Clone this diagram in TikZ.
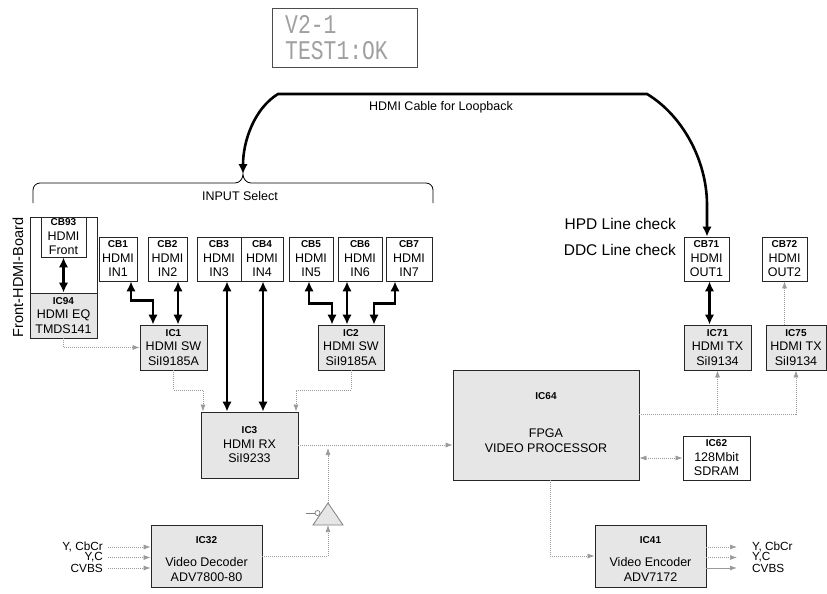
\documentclass[tikz,border=0pt]{standalone}
\usepackage{fontspec}
\setmainfont{Liberation Sans}
\newfontfamily\lcdfont{Liberation Mono}
\usetikzlibrary{arrows.meta,calc}
\definecolor{boxfill}{HTML}{E6E6E6}
\definecolor{lgray}{HTML}{9A9A9A}
\definecolor{tgray}{HTML}{808080}
\definecolor{lcdgray}{HTML}{A0A0A0}
\newcommand{\iclab}[1]{{\fontsize{10}{14.5}\selectfont\bfseries #1}}
\begin{document}
\begin{tikzpicture}[x=1pt,y=-1pt,
  font=\fontsize{12.5}{14.5}\selectfont,
  box/.style={draw=black!85,line width=0.8pt,fill=white,inner sep=0pt,align=center},
  chip/.style={box,fill=boxfill},
  thk/.style={line width=2.6pt,{Latex[length=10pt,width=9.5pt]}-{Latex[length=10pt,width=9.5pt]}},
  gline/.style={draw=lgray,line width=0.7pt,dash pattern=on 1pt off 1pt,-{Latex[length=7pt,width=5pt]}},
  gboth/.style={gline,{Latex[length=7pt,width=5pt]}-{Latex[length=7pt,width=5pt]}},
  gsolid/.style={draw=lgray,line width=0.9pt,-{Latex[length=7pt,width=5pt]}},
  lcdtxt/.style={font=\lcdfont\fontsize{22.5}{23}\selectfont,text=lcdgray,inner sep=0pt,anchor=west},
  plain/.style={inner sep=0pt,align=center},
  big/.style={plain,font=\fontsize{15.5}{17}\selectfont},
  sig/.style={plain,font=\fontsize{11.8}{12}\selectfont}
]
\useasboundingbox (0,0) rectangle (827,594);

% LCD
\node[box,draw=black!70,minimum width=145pt,minimum height=59pt] (lcd) at (344.5,37.5) {};
\node[lcdtxt] (lcd1) at (285,24) {\scalebox{0.95}[1.2]{V2-1}};
\node[lcdtxt] (lcd2) at (285,51) {\scalebox{0.95}[1.2]{TEST1:OK}};

% loopback + brace
\node[plain] (loopl) at (441,107) {HDMI Cable for Loopback};
\coordinate (btip) at (243,174);
\draw[line width=0.8pt] (33,203) -- (33,190) to[out=90,in=180] (40,183) -- (235,183)
  to[out=0,in=-90] (btip) to[out=-90,in=180] (251,183) -- (426,183)
  to[out=0,in=90] (433,190) -- (433,203);
\node[plain] (insel) at (240,196) {INPUT Select};

% front board
\node[plain,rotate=90,font=\fontsize{14.5}{16}\selectfont] (fhb) at (18,277.5) {Front-HDMI-Board};
\node[box,minimum width=67pt,minimum height=121pt] (front) at (63.5,277.5) {};
\node[box,minimum width=45pt,minimum height=40pt] (CB93) at (63.5,237) {\iclab{CB93}\\HDMI\\Front};
\node[chip,minimum width=67pt,minimum height=45pt] (IC94) at (63.5,315.5) {\iclab{IC94}\\HDMI EQ\\TMDS141};

% input connectors
\node[box,minimum width=38pt,minimum height=44pt] (CB1) at (118,259) {\iclab{CB1}\\HDMI\\IN1};
\node[box,minimum width=39pt,minimum height=44pt] (CB2) at (167.5,259) {\iclab{CB2}\\HDMI\\IN2};
\node[box,minimum width=44pt,minimum height=44pt] (CB3) at (219,259) {\iclab{CB3}\\HDMI\\IN3};
\node[box,minimum width=42pt,minimum height=44pt] (CB4) at (262,259) {\iclab{CB4}\\HDMI\\IN4};
\node[box,minimum width=44pt,minimum height=44pt] (CB5) at (311,259) {\iclab{CB5}\\HDMI\\IN5};
\node[box,minimum width=44pt,minimum height=44pt] (CB6) at (360,259) {\iclab{CB6}\\HDMI\\IN6};
\node[box,minimum width=46pt,minimum height=44pt] (CB7) at (409,259) {\iclab{CB7}\\HDMI\\IN7};

% switches, receiver
\node[chip,minimum width=67pt,minimum height=45pt] (IC1) at (173.5,347.5) {\iclab{IC1}\\HDMI SW\\SiI9185A};
\node[chip,minimum width=66pt,minimum height=45pt] (IC2) at (351,347.5) {\iclab{IC2}\\HDMI SW\\SiI9185A};
\node[chip,minimum width=97pt,minimum height=66pt] (IC3) at (249.5,445) {\iclab{IC3}\\HDMI RX\\SiI9233};

% FPGA
\node[chip,minimum width=186pt,minimum height=110pt] (FPGA) at (546,425) {};
\node[plain] (fpgaid) at (546,396) {\iclab{IC64}};
\node[plain] (fpgatx) at (546,440.5) {FPGA\\VIDEO PROCESSOR};
\node[box,minimum width=67pt,minimum height=44pt] (IC62) at (716.5,458) {\iclab{IC62}\\128Mbit\\SDRAM};

% outputs
\node[box,minimum width=45pt,minimum height=44pt] (CB71) at (706.5,259) {\iclab{CB71}\\HDMI\\OUT1};
\node[box,minimum width=45pt,minimum height=44pt] (CB72) at (784.5,259) {\iclab{CB72}\\HDMI\\OUT2};
\node[chip,minimum width=67pt,minimum height=45pt] (IC71) at (717.5,347.5) {\iclab{IC71}\\HDMI TX\\SiI9134};
\node[chip,minimum width=60pt,minimum height=45pt] (IC75) at (796,347.5) {\iclab{IC75}\\HDMI TX\\SiI9134};
\node[big,anchor=east] (hpd) at (676,224) {HPD Line check};
\node[big,anchor=east] (ddc) at (676,250) {DDC Line check};

% decoder / encoder
\node[chip,minimum width=111pt,minimum height=62pt] (IC32) at (206.5,556) {};
\node[plain] (ic32id) at (206.5,540) {\iclab{IC32}};
\node[plain] (ic32tx) at (206.5,569.5) {Video Decoder\\ADV7800-80};
\node[chip,minimum width=111pt,minimum height=62pt] (IC41) at (650.5,556) {};
\node[plain] (ic41id) at (650.5,540) {\iclab{IC41}};
\node[plain] (ic41tx) at (650.5,569.5) {Video Encoder\\ADV7172};

\node[sig,anchor=east] (i1) at (103,547) {Y, CbCr};
\node[sig,anchor=east] (i2) at (103,557.5) {Y,C};
\node[sig,anchor=east] (i3) at (103,568) {CVBS};
\node[sig,anchor=west] (o1) at (752,547) {Y, CbCr};
\node[sig,anchor=west] (o2) at (752,557.5) {Y,C};
\node[sig,anchor=west] (o3) at (752,568) {CVBS};

% thick HDMI links
\draw[thk] (btip) .. controls (243,140) and (255,108) .. (278,94) -- (647,94)
  .. controls (682,115) and (707,160) .. (707,205) -- ([xshift=0.5pt]CB71.north);
\draw[thk] (CB93.south) -- (IC94.north);
\draw[thk] ([xshift=13pt]CB1.south) -- ++(0,19) -| ([xshift=-20.5pt]IC1.north);
\draw[thk] ([xshift=10.5pt]CB2.south) -- ([xshift=10.5pt]CB2.south |- IC1.north);
\draw[thk] ([xshift=8pt]CB3.south) -- ([xshift=8pt]CB3.south |- IC3.north);
\draw[thk] ([xshift=1pt]CB4.south) -- ([xshift=1pt]CB4.south |- IC3.north);
\draw[thk] ([xshift=-2pt]CB5.south) -- ++(0,22) -| ([xshift=-19pt]IC2.north);
\draw[thk] ([xshift=-13pt]CB6.south) -- ([xshift=-13pt]CB6.south |- IC2.north);
\draw[thk] ([xshift=-14pt]CB7.south) -- ++(0,22) -| ([xshift=23pt]IC2.north);
\draw[thk] ([xshift=3pt]CB71.south) -- ([xshift=3pt]CB71.south |- IC71.north);

% gray signal lines
\draw[gline] (IC94.south) |- (IC1.west);
\draw[gline] (IC1.south) -- ++(0,20) -| ([xshift=-46.5pt]IC3.north);
\draw[gline] (IC2.south) -- ++(0,20) -| ([xshift=46.5pt]IC3.north);
\draw[gline] (IC3.east) -- (IC3.east -| FPGA.west);
\coordinate (fpo) at ([yshift=11pt]FPGA.east);
\draw[gline] (fpo) -| (IC75.south);
\draw[gline] (fpo -| IC71.south) -- (IC71.south);
\draw[gline] (CB72.south |- IC75.north) -- (CB72.south);
\draw[gboth] (IC62.west -| FPGA.east) -- (IC62.west);
\draw[gline] ([xshift=4pt]FPGA.south) |- (IC41.west);

% buffer
\coordinate (bufA) at (328,503);
\coordinate (bufB) at (328,525);
\coordinate (junc) at (328,448);
\draw[draw=tgray,fill=boxfill,line width=0.8pt] (bufA) -- (343,525) -- (313,525) -- cycle;
\draw[draw=tgray,fill=white,line width=0.7pt] (317.5,513) circle (2.5pt);
\draw[draw=tgray,line width=0.8pt] (306,513) -- (315,513);
\draw[gline] (IC32.east) -| (bufB);
\draw[gline] (bufA) -- (junc);

% analog video
\draw[gline] ([xshift=5pt]i1.east) -- (IC32.west |- i1);
\draw[gline] ([xshift=5pt]i2.east) -- (IC32.west |- i2);
\draw[gline] ([xshift=5pt]i3.east) -- (IC32.west |- i3);
\draw[gline] (IC41.east |- o1) -- ([xshift=-15pt]o1.west);
\draw[gline] (IC41.east |- o2) -- ([xshift=-15pt]o2.west);
\draw[gsolid] (IC41.east |- o3) -- ([xshift=-15pt]o3.west);
\end{tikzpicture}
\end{document}
